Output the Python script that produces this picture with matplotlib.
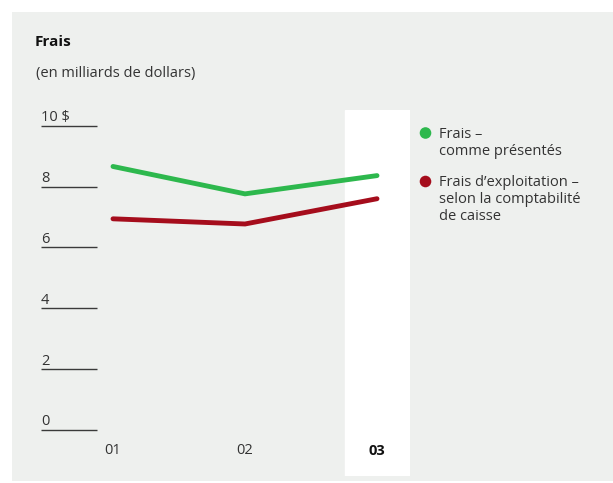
import matplotlib
matplotlib.use("Agg")
import matplotlib.pyplot as plt
from matplotlib.patches import Rectangle, Ellipse

years = ["01", "02", "03"]
frais_presentes = [8.66, 7.76, 8.36]
frais_exploitation = [6.94, 6.77, 7.60]
yticks = [0, 2, 4, 6, 8, 10]
ytick_labels = ["0", "2", "4", "6", "8", "10 $"]
legend_green = ["Frais –", "comme présentés"]
legend_red = ["Frais d’exploitation –", "selon la comptabilité", "de caisse"]

GREEN = "#2db84d"
RED = "#a50d1c"
BG = "#eef0ee"
TXT = "#333333"
FS = 10.5

W, H = 613, 483
plt.rcParams['font.family'] = ['Open Sans', 'DejaVu Sans']
fig = plt.figure(figsize=(W / 100, H / 100), dpi=100)
fig.patch.set_facecolor("white")


def fx(px):
    return px / W


def fy(py):
    return 1 - py / H


fig.add_artist(Rectangle((fx(12), fy(481)), fx(613) - fx(12), fy(12) - fy(481),
                         transform=fig.transFigure, facecolor=BG, edgecolor="none", zorder=0))

# axes from x=41..410 px, y=110..476 px
ax = fig.add_axes([fx(41), fy(476), fx(410) - fx(41), fy(110) - fy(476)])
ax.set_facecolor("none")
ax.set_zorder(2)
x = list(range(len(years)))
ppu_x = 132.0
x0 = 113.0
ax.set_xlim((41 - x0) / ppu_x, (410 - x0) / ppu_x)
ppu_y = (430 - 125.7) / 10
ax.set_ylim((430 - 476) / ppu_y, (430 - 110) / ppu_y)
for s in ax.spines.values():
    s.set_visible(False)
ax.set_xticks([])
ax.set_yticks([])

# white highlight band for last year
ax.axvspan((345 - x0) / ppu_x, (410 - x0) / ppu_x, ymin=0, ymax=1, color="white", zorder=1)

# y tick lines and labels
xl0 = (41 - x0) / ppu_x
xl1 = (97 - x0) / ppu_x
ax.hlines(yticks, xl0, xl1, colors="#3a3a3a", linewidth=1.0, zorder=2)
for v, lab in zip(yticks, ytick_labels):
    ax.annotate(lab, (xl0, v), xytext=(0, 3.3), textcoords="offset points",
                ha="left", va="baseline", fontsize=FS, color=TXT)

ax.plot(x, frais_presentes, color=GREEN, linewidth=3.5, solid_capstyle="round",
        solid_joinstyle="miter", zorder=3)
ax.plot(x, frais_exploitation, color=RED, linewidth=3.5, solid_capstyle="round",
        solid_joinstyle="miter", zorder=3)

for i, yr in enumerate(years):
    last = i == len(years) - 1
    ax.annotate(yr, (i, 0), xytext=(0, -15), textcoords="offset points",
                ha="center", va="center", fontsize=FS, color="#111111" if last else TXT,
                fontweight="bold" if last else "normal")

fig.text(fx(35), fy(42), "Frais", fontsize=11, fontweight="bold", color="#111111",
         ha="left", va="center")
fig.text(fx(36), fy(73), "(en milliards de dollars)", fontsize=FS, color=TXT,
         ha="left", va="center")

# legend
fig.add_artist(Ellipse((fx(425.5), fy(133)), 11.6 / W, 11.6 / H, transform=fig.transFigure,
                       facecolor=GREEN, edgecolor="none"))
fig.add_artist(Ellipse((fx(425.5), fy(181.5)), 11.6 / W, 11.6 / H, transform=fig.transFigure,
                       facecolor=RED, edgecolor="none"))
for k, line in enumerate(legend_green):
    fig.text(fx(439), fy(138.5 + 16.5 * k), line, fontsize=FS, color=TXT,
             ha="left", va="baseline")
for k, line in enumerate(legend_red):
    fig.text(fx(439), fy(186.5 + 16.5 * k), line, fontsize=FS, color=TXT,
             ha="left", va="baseline")

fig.savefig("out.png", dpi=100)
